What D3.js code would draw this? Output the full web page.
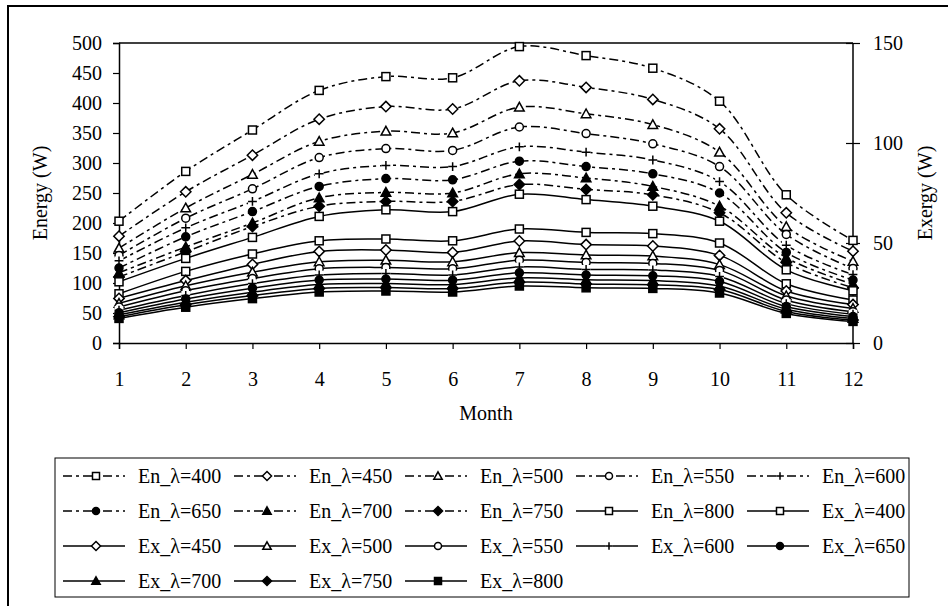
<!DOCTYPE html>
<html>
<head>
<meta charset="utf-8">
<script src="https://cdn.jsdelivr.net/npm/d3@7"></script>
<style>
  body { margin: 0; background: #fff; }
  text { font-family: "Liberation Serif", "Times New Roman", serif; fill: #000; }
</style>
</head>
<body>
<script>
// months on the x axis
const months = [1, 2, 3, 4, 5, 6, 7, 8, 9, 10, 11, 12];
const lambdas = [400, 450, 500, 550, 600, 650, 700, 750, 800];

// energy, left axis (W)
const en400 = [203, 286, 355, 421, 444, 442, 494, 479, 458, 403, 247, 171];
const en450 = [178, 252, 313, 373, 394, 390, 437, 426, 406, 357, 217, 153];
const en500 = [158, 225, 281, 336, 353, 350, 393, 382, 364, 318, 194, 136];
const en550 = [146, 208, 257, 309, 324, 321, 360, 349, 332, 294, 181, 124];
const en600 = [137, 192, 236, 282, 296, 294, 327, 318, 305, 269, 163, 114];
const en650 = [125, 177, 219, 261, 274, 272, 303, 294, 282, 250, 151, 105];
const en700 = [117, 160, 200, 242, 251, 250, 282, 275, 261, 228, 142, 98];
const en750 = [110, 152, 194, 228, 236, 236, 264, 256, 247, 217, 134, 92];
const en800 = [102, 141, 176, 211, 222, 219, 248, 239, 228, 203, 122, 87];

// exergy, right axis (W)
const ex400 = [24.6, 35.8, 44.5, 51.1, 52.0, 51.1, 57.0, 55.3, 54.7, 50.0, 29.6, 21.5];
const ex450 = [22.3, 31.2, 39.3, 45.8, 46.5, 45.3, 51.0, 49.2, 48.5, 43.8, 26.0, 19.2];
const ex500 = [19.8, 28.6, 35.4, 40.6, 41.4, 40.6, 45.2, 44.0, 43.5, 39.2, 23.6, 17.3];
const ex550 = [18.0, 26.1, 32.2, 37.1, 37.8, 37.1, 41.4, 40.2, 39.8, 36.3, 21.5, 15.6];
const ex600 = [16.4, 23.8, 29.7, 34.0, 34.8, 34.0, 38.0, 36.8, 36.5, 33.3, 19.7, 14.4];
const ex650 = [15.1, 22.0, 27.4, 31.5, 32.0, 31.4, 35.1, 34.0, 33.6, 30.8, 18.2, 13.2];
const ex700 = [14.1, 20.4, 25.4, 29.2, 29.7, 29.2, 32.5, 31.6, 31.2, 28.5, 16.9, 12.3];
const ex750 = [13.1, 19.1, 23.7, 27.3, 27.7, 27.2, 30.4, 29.5, 29.1, 26.7, 15.8, 11.5];
const ex800 = [12.3, 17.9, 22.2, 25.5, 26.0, 25.5, 28.5, 27.6, 27.3, 25.0, 14.8, 10.8];

const enTicks = [0, 50, 100, 150, 200, 250, 300, 350, 400, 450, 500];
const exTicks = [0, 50, 100, 150];

const enValues = [en400, en450, en500, en550, en600, en650, en700, en750, en800];
const exValues = [ex400, ex450, ex500, ex550, ex600, ex650, ex700, ex750, ex800];
const shapes = ['square', 'diamond', 'triangle', 'circle', 'plus', 'circleF', 'triangleF', 'diamondF', 'square'];

const series = [];
lambdas.forEach(function(l, i) {
	series.push({name: 'En_\u03bb=' + l, values: enValues[i], axis: 'en', shape: shapes[i], dashed: i < 8});
});
lambdas.forEach(function(l, i) {
	series.push({name: 'Ex_\u03bb=' + l, values: exValues[i], axis: 'ex', shape: i == 8 ? 'squareF' : shapes[i], dashed: false});
});

const W = 948, H = 606;
const plot = {left: 119, right: 853, top: 43, bottom: 343};
const font = '"Liberation Serif", "Times New Roman", serif';

const svg = d3.select('body').append('svg')
	.attr('width', W)
	.attr('height', H)
	.attr('font-family', font);

// outer frame (cut by the window on right and bottom)
svg.append('rect')
	.attr('x', 8).attr('y', 6)
	.attr('width', 980).attr('height', 640)
	.attr('fill', 'none')
	.attr('stroke', '#000')
	.attr('stroke-width', 2);

const x = d3.scaleLinear().domain([1, 12]).range([plot.left, plot.right]);
const yEn = d3.scaleLinear().domain([0, 500]).range([plot.bottom, plot.top]);
const yEx = d3.scaleLinear().domain([0, 150]).range([plot.bottom, plot.top]);

// top border of plot
svg.append('line')
	.attr('x1', plot.left).attr('x2', plot.right)
	.attr('y1', plot.top).attr('y2', plot.top)
	.attr('stroke', '#000').attr('stroke-width', 1.5);

const xAxis = d3.axisBottom(x).tickValues(months).tickSize(6).tickPadding(23).tickFormat(d3.format('d'));
const yAxisL = d3.axisLeft(yEn).tickValues(enTicks).tickSize(6).tickPadding(11);
const yAxisR = d3.axisRight(yEx).tickValues(exTicks).tickSize(7).tickPadding(13);

function styleAxis(g) {
	g.attr('font-family', font);
	g.select('.domain').attr('stroke-width', 1.5);
	g.selectAll('.tick line').attr('stroke-width', 1.2);
	g.selectAll('text').style('font-size', '20px');
}

svg.append('g')
	.attr('transform', 'translate(0,' + plot.bottom + ')')
	.call(xAxis)
	.call(styleAxis);

svg.append('g')
	.attr('transform', 'translate(' + plot.left + ',0)')
	.call(yAxisL)
	.call(styleAxis);

const gR = svg.append('g')
	.attr('transform', 'translate(' + plot.right + ',0)')
	.call(yAxisR)
	.call(styleAxis);
gR.selectAll('.tick line').attr('x1', -7);
gR.select('.domain').attr('d', 'M0,' + plot.bottom + 'V' + plot.top);

// axis titles
svg.append('text')
	.attr('transform', 'translate(40,' + (plot.top + plot.bottom) / 2 + ') rotate(-90)')
	.attr('text-anchor', 'middle')
	.attr('dy', '0.35em')
	.style('font-size', '20px')
	.text('Energy (W)');

svg.append('text')
	.attr('transform', 'translate(925,' + (plot.top + plot.bottom) / 2 + ') rotate(-90)')
	.attr('text-anchor', 'middle')
	.attr('dy', '0.35em')
	.style('font-size', '20px')
	.text('Exergy (W)');

svg.append('text')
	.attr('x', (plot.left + plot.right) / 2)
	.attr('y', 420)
	.attr('text-anchor', 'middle')
	.style('font-size', '20px')
	.text('Month');

// markers
function drawMarker(g, shape, cx, cy, s) {
	const h = s / 2;
	const filled = shape.endsWith('F');
	const fill = filled ? '#000' : '#fff';
	const base = shape.replace('F', '');
	if (base == 'square') {
		g.append('rect').attr('x', cx - h).attr('y', cy - h).attr('width', s).attr('height', s)
			.attr('fill', fill).attr('stroke', '#000').attr('stroke-width', 1.5);
	} else if (base == 'diamond') {
		const d = h * 1.3;
		g.append('path').attr('d', 'M' + cx + ',' + (cy - d) + 'L' + (cx + d) + ',' + cy + 'L' + cx + ',' + (cy + d) + 'L' + (cx - d) + ',' + cy + 'Z')
			.attr('fill', fill).attr('stroke', '#000').attr('stroke-width', 1.5);
	} else if (base == 'triangle') {
		const d = h * 1.2;
		g.append('path').attr('d', 'M' + cx + ',' + (cy - d) + 'L' + (cx + d) + ',' + (cy + d * 0.8) + 'L' + (cx - d) + ',' + (cy + d * 0.8) + 'Z')
			.attr('fill', fill).attr('stroke', '#000').attr('stroke-width', 1.5);
	} else if (base == 'circle') {
		g.append('circle').attr('cx', cx).attr('cy', cy).attr('r', h)
			.attr('fill', fill).attr('stroke', '#000').attr('stroke-width', 1.5);
	} else if (base == 'plus') {
		const d = h * 1.1;
		g.append('rect').attr('x', cx - d).attr('y', cy - d).attr('width', 2 * d).attr('height', 2 * d).attr('fill', '#fff');
		g.append('path').attr('d', 'M' + (cx - d) + ',' + cy + 'H' + (cx + d) + 'M' + cx + ',' + (cy - d) + 'V' + (cy + d))
			.attr('stroke', '#000').attr('stroke-width', 1.5);
	}
}

const line = d3.line().curve(d3.curveCatmullRom.alpha(0.5));
const dash = '9,4,3,4';

series.forEach(function(s) {
	const y = s.axis == 'en' ? yEn : yEx;
	const g = svg.append('g');
	g.append('path')
		.attr('d', line(s.values.map(function(v, i) { return [x(months[i]), y(v)]; })))
		.attr('fill', 'none')
		.attr('stroke', '#000')
		.attr('stroke-width', 1.5)
		.attr('stroke-dasharray', s.dashed ? dash : null);
	s.values.forEach(function(v, i) {
		drawMarker(g, s.shape, x(months[i]), y(v), 8);
	});
});

// legend
const leg = {x: 55, y: 458, w: 854, h: 139, col: 171, row: 35};
svg.append('rect')
	.attr('x', leg.x).attr('y', leg.y)
	.attr('width', leg.w).attr('height', leg.h)
	.attr('fill', '#fff')
	.attr('stroke', '#000')
	.attr('stroke-width', 1);

series.forEach(function(s, i) {
	const c = i % 5, r = Math.floor(i / 5);
	const x0 = 63 + c * leg.col;
	const cy = 476 + r * leg.row;
	const g = svg.append('g');
	g.append('line')
		.attr('x1', x0).attr('x2', x0 + 62)
		.attr('y1', cy).attr('y2', cy)
		.attr('stroke', '#000')
		.attr('stroke-width', 1.5)
		.attr('stroke-dasharray', s.dashed ? dash : null);
	drawMarker(g, s.shape, x0 + 33, cy, 7);
	g.append('text')
		.attr('x', x0 + 75)
		.attr('y', cy)
		.attr('dy', '0.33em')
		.style('font-size', '20px')
		.text(s.name);
});
</script>
</body>
</html>
